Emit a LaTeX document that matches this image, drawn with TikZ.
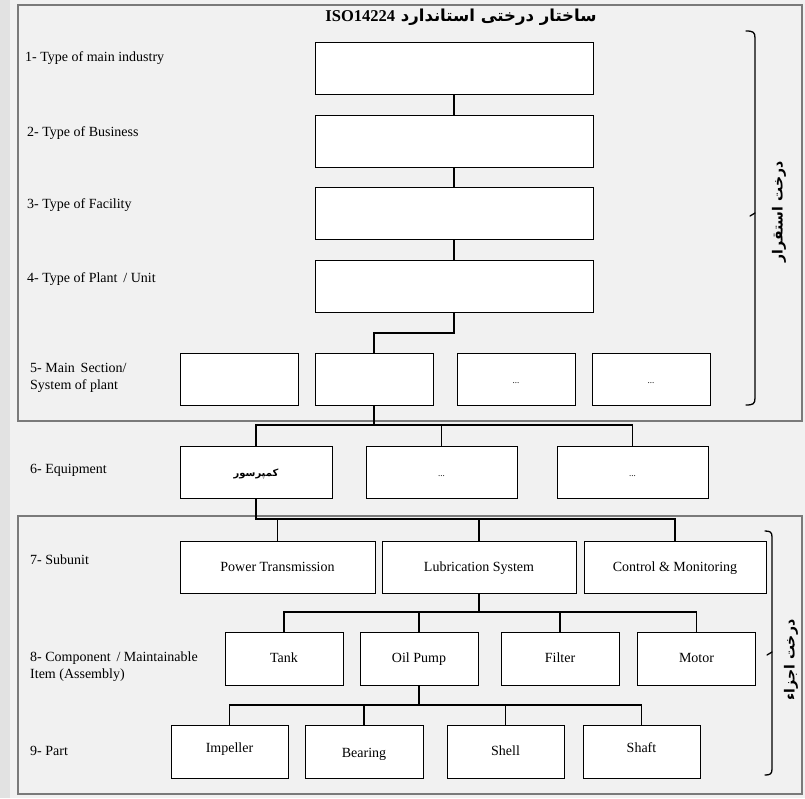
\documentclass[tikz,border=0pt]{standalone}
\usepackage{fontspec}
\setmainfont{Liberation Serif}
\newfontfamily\arabicfont[Script=Arabic]{DejaVu Sans}
\TeXXeTstate=1
\definecolor{bg}{HTML}{F1F1F1}
\definecolor{strip}{HTML}{E2E2E2}
\definecolor{panelc}{HTML}{7A7A7A}
\begin{document}
\begin{tikzpicture}[x=1pt,y=-1pt,
  box/.style={draw=black, fill=white, line width=1pt, inner sep=0pt, minimum height=52pt, text height=8pt, text depth=0pt, font=\fontsize{14}{16}\selectfont},
  lab/.style={anchor=west, align=left, inner sep=0pt, font=\fontsize{14}{17}\selectfont},
  panel/.style={draw=panelc, line width=1.8pt},
  conn/.style={line width=2pt},
  thn/.style={line width=1.2pt},
  thk/.style={line width=2.8pt},
  brace/.style={line width=1.3pt, line cap=round, line join=round},
  vlab/.style={rotate=90, font=\arabicfont\bfseries\fontsize{14}{16}\selectfont, inner sep=0pt}]
\useasboundingbox (0,0) rectangle (805,798);
\fill[bg] (0,0) rectangle (805,798);
\fill[strip] (0,0) rectangle (10,798);
\draw[panel] (18,5) rectangle (802,421);
\draw[panel] (18,516) rectangle (802,794);

% title
\node[font=\bfseries\fontsize{16.5}{18}\selectfont] (title) at (461,17) {\arabicfont\beginR ساختار درختی استاندارد {\rmfamily\beginL ISO14224\endL}\endR};

% level 1-4
\node[box, minimum width=278pt] (b1) at (454,68) {};
\node[box, minimum width=278pt] (b2) at (454,141) {};
\node[box, minimum width=278pt] (b3) at (454,213) {};
\node[box, minimum width=278pt] (b4) at (454,286) {};

% level 5
\node[box, minimum width=118pt] (s1) at (239,379) {};
\node[box, minimum width=118pt] (s2) at (374,379) {};
\node[box, minimum width=118pt] (s3) at (516,379) {\fontsize{9}{10}\selectfont ...};
\node[box, minimum width=118pt] (s4) at (651,379) {\fontsize{9}{10}\selectfont ...};

% level 6
\node[box, minimum width=152pt] (e1) at (256,472) {\arabicfont\bfseries\fontsize{10}{11}\selectfont\beginR کمپرسور\endR};
\node[box, minimum width=151pt] (e2) at (441.5,472) {\fontsize{9}{10}\selectfont ...};
\node[box, minimum width=151pt] (e3) at (632.5,472) {\fontsize{9}{10}\selectfont ...};

% level 7
\node[box, minimum width=195pt] (pt) at (277.5,567) {Power Transmission};
\node[box, minimum width=194pt] (ls) at (479,567) {Lubrication System};
\node[box, minimum width=182pt] (cm) at (675,567) {Control \& Monitoring};

% level 8
\node[box, minimum width=118pt, minimum height=53pt] (tank) at (284,658.5) {Tank};
\node[box, minimum width=118pt, minimum height=53pt] (op) at (419,658.5) {Oil Pump};
\node[box, minimum width=118pt, minimum height=53pt] (fi) at (560,658.5) {Filter};
\node[box, minimum width=118pt, minimum height=53pt] (mo) at (696.5,658.5) {Motor};

% level 9
\node[box, minimum width=117pt, minimum height=53pt] (imp) at (229.5,751.5) {\raisebox{3pt}{Impeller}};
\node[box, minimum width=118pt, minimum height=53pt] (bea) at (364,751.5) {\raisebox{-2pt}{Bearing}};
\node[box, minimum width=117pt, minimum height=53pt] (she) at (505.5,751.5) {Shell};
\node[box, minimum width=117pt, minimum height=53pt] (sha) at (641.5,751.5) {\raisebox{3pt}{Shaft}};

% left labels
\node[lab] (l1) at (25,58) {1- Type of main industry};
\node[lab] (l2) at (27,133) {2- Type of Business};
\node[lab] (l3) at (27,205) {3- Type of Facility};
\node[lab] (l4) at (27,279) {4- Type of Plant\, / Unit};
\node[lab] (l5) at (30,378) {5- Main\, Section/\\System of plant};
\node[lab] (l6) at (30,470) {6- Equipment};
\node[lab] (l7) at (30,560) {7- Subunit};
\node[lab] (l8) at (30,667) {8- Component\, / Maintainable\\Item (Assembly)};
\node[lab] (l9) at (30,751) {9- Part};

% connectors 1-4
\draw[conn] (b1.south) -- (b2.north);
\draw[conn] (b2.south) -- (b3.north);
\draw[conn] (b3.south) -- (b4.north);
\coordinate (h5) at (0,333);
\draw[thk] (b4.south) -- (b4.south |- h5) -- (s2.north |- h5) -- (s2.north);

% 5 -> 6
\coordinate (h6) at (0,425);
\draw[thn] (e1.north |- h6) -- (e3.north |- h6) -- (e3.north);
\draw[thn] (e2.north |- h6) -- (e2.north);
\draw[thk] (s2.south) -- (s2.south |- h6) -- (e1.north |- h6) -- (e1.north);

% 6 -> 7
\coordinate (h7) at (0,519);
\draw[thn] (pt.north |- h7) -- (cm.north |- h7) -- (cm.north);
\draw[thn] (pt.north |- h7) -- (pt.north);
\draw[thk] (e1.south) -- (e1.south |- h7) -- (ls.north |- h7) -- (ls.north);

% 7 -> 8
\coordinate (h8) at (0,612);
\draw[thn] (tank.north) -- (tank.north |- h8) -- (mo.north |- h8) -- (mo.north);
\draw[thn] (fi.north |- h8) -- (fi.north);
\draw[thk] (ls.south) -- (ls.south |- h8) -- (op.north |- h8) -- (op.north);

% 8 -> 9
\coordinate (h9) at (0,705);
\draw[thn] (imp.north) -- (imp.north |- h9) -- (sha.north |- h9) -- (sha.north);
\draw[thn] (she.north |- h9) -- (she.north);
\draw[thk] (op.south) -- (op.south |- h9) -- (bea.north |- h9) -- (bea.north);

% braces
\draw[brace] (746,31) .. controls (753,31) and (755,32) .. (755,38) -- (755,398) .. controls (755,404) and (753,405) .. (746,405);
\draw[brace] (755,213) -- (750,216);
\node[vlab] (v1) at (779,212) {\beginR درخت استقرار\endR};
\draw[brace] (765,531) .. controls (770,531) and (772,532) .. (772,537) -- (772,769) .. controls (772,774) and (770,775) .. (765,775);
\draw[brace] (772,652) -- (767,655);
\node[vlab] (v2) at (791,660) {\beginR درخت اجزاء\endR};
\end{tikzpicture}
\end{document}
